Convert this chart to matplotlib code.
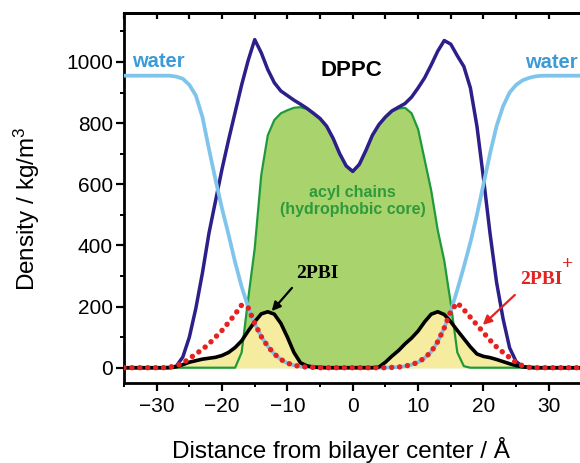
import numpy as np
import matplotlib
matplotlib.use("Agg")
import matplotlib.pyplot as plt
from matplotlib.ticker import MultipleLocator

plt.rcParams["font.family"] = ["Liberation Sans", "DejaVu Sans"]
plt.rcParams["mathtext.fontset"] = "custom"
plt.rcParams["mathtext.rm"] = "Liberation Sans"
plt.rcParams["mathtext.it"] = "Liberation Sans"

# Distance from bilayer centre (Å), 1 Å sampling
distance = np.arange(-35, 36, 1)

water = ([955] * 8 +
         [952, 945, 925, 890, 820, 715, 615, 520, 435, 345, 265, 198, 145, 102, 70, 45, 27, 15, 8, 4, 2, 1] +
         [0] * 11 +
         [1, 2, 5, 10, 18, 32, 52, 85, 130, 185, 255, 330, 410, 500, 600, 700, 790, 855, 900, 925, 940, 948, 953] +
         [955] * 7)

dppc = ([0] * 7 +
        [1, 5, 35, 100, 195, 310, 440, 545, 650, 745, 835, 925, 1005, 1073, 1030, 975, 932, 905, 890, 875,
         862, 848, 832, 815, 790, 750, 700, 660, 642, 665, 710, 760, 795, 820, 840, 852, 864, 885, 915, 948,
         990, 1035, 1070, 1058, 1020, 985, 915, 790, 620, 440, 280, 160, 65, 20, 4, 1] +
        [0] * 8)

acyl_chains = ([0] * 18 +
               [50, 225, 390, 630, 760, 810, 832, 842, 850, 852, 846, 830, 813, 788, 748, 698, 658, 640, 663,
                708, 758, 793, 818, 838, 848, 850, 832, 780, 680, 580, 450, 350, 210, 50, 5] +
               [0] * 18)

pbi = ([0] * 8 +
       [3, 10, 18, 23, 28, 31, 34, 40, 50, 66, 88, 120, 150, 176, 183, 175, 145, 100, 50, 16, 6, 2, 1] +
       [0] * 8 +
       [2, 18, 38, 56, 78, 97, 120, 150, 175, 183, 174, 150, 122, 95, 68, 45, 37, 33, 27, 20, 13, 7, 3, 1] +
       [0] * 8)

pbi_plus = ([0] * 7 +
            [2, 6, 15, 30, 45, 60, 78, 100, 122, 148, 175, 205, 196, 145, 102, 70, 45, 27, 15, 8, 4, 2, 1] +
            [0] * 11 +
            [1, 2, 5, 10, 18, 32, 52, 85, 130, 185, 212, 190, 165, 140, 115, 90, 68, 50, 33, 17, 6, 1] +
            [0] * 8)

x_ticks = [-30, -20, -10, 0, 10, 20, 30]
y_ticks = [0, 200, 400, 600, 800, 1000]

C_WATER = "#7fc4ea"
C_WATER_TXT = "#3b9bd6"
C_DPPC = "#2c1f8a"
C_ACYL = "#1f9a3a"
C_ACYL_FILL = "#a8d36d"
C_ACYL_TXT = "#2f9a3c"
C_PBI_FILL = "#f6eca0"
C_RED = "#e5221f"

fig = plt.figure(figsize=(5.8, 4.63), dpi=100)
ax = fig.add_axes([124 / 580, 80 / 463, 457.5 / 580, 370 / 463])

ax.fill_between(distance, acyl_chains, 0, color=C_ACYL_FILL, lw=0, zorder=1)
ax.fill_between(distance, pbi, 0, color=C_PBI_FILL, lw=0, zorder=2)
ax.plot(distance, acyl_chains, color=C_ACYL, lw=1.6, zorder=3)
ax.plot(distance, dppc, color=C_DPPC, lw=2.5, zorder=4)
ax.plot(distance, water, color=C_WATER, lw=2.7, zorder=5)
ax.plot(distance, pbi, color="black", lw=2.6, zorder=6, solid_capstyle="butt")
ax.plot(distance, pbi_plus, color=C_RED, lw=3.9, zorder=7,
        linestyle=(0, (0.01, 1.45)), dash_capstyle="round")

ax.set_xlim(-35, 35)
ax.set_ylim(-50, 1160)
ax.set_xticks(x_ticks)
ax.set_yticks(y_ticks)
ax.xaxis.set_minor_locator(MultipleLocator(5))
ax.yaxis.set_minor_locator(MultipleLocator(100))
ax.tick_params(which="major", direction="out", length=6, width=1.6, labelsize=15, pad=4)
ax.tick_params(axis="y", which="major", pad=2)
ax.tick_params(which="minor", direction="out", length=3, width=1.4)
for side in ("left", "bottom", "top"):
    ax.spines[side].set_linewidth(2)
ax.spines["right"].set_visible(False)

top = ax.secondary_xaxis("top")
top.set_xticks(np.arange(-35, 36, 5))
top.tick_params(direction="in", length=4, width=1.6, labeltop=False)
top.spines["top"].set_linewidth(2)

# Labels on the curves
ax.text(-33.7, 1002, "water", color=C_WATER_TXT, fontsize=14.5, fontweight="bold",
        ha="left", va="center", zorder=8)
ax.text(26.3, 998, "water", color=C_WATER_TXT, fontsize=14.5, fontweight="bold",
        ha="left", va="center", zorder=8, clip_on=False)
ax.text(-0.15, 972, "DPPC", color="black", fontsize=16, fontweight="bold",
        ha="center", va="center", zorder=8)
ax.text(0, 574, "acyl chains", color=C_ACYL_TXT, fontsize=11.5, fontweight="bold",
        ha="center", va="center", zorder=8)
ax.text(0, 519, "(hydrophobic core)", color=C_ACYL_TXT, fontsize=11.5, fontweight="bold",
        ha="center", va="center", zorder=8)

serif = ["Liberation Serif", "DejaVu Serif"]
ax.text(-5.4, 307, "2PBI", color="black", fontsize=14, fontweight="bold", family=serif,
        ha="center", va="center", zorder=8)
ax.annotate("", xy=(-12.4, 185), xytext=(-9.3, 261),
            arrowprops=dict(arrowstyle="-|>", color="black", lw=1.6,
                            mutation_scale=13, shrinkA=0, shrinkB=0), zorder=8)

ax.text(28.8, 287, "2PBI", color=C_RED, fontsize=14, fontweight="bold", family=serif,
        ha="center", va="center", zorder=8)
ax.text(32.8, 338, "+", color=C_RED, fontsize=14, fontweight="bold", family=serif,
        ha="center", va="center", zorder=8)
ax.annotate("", xy=(19.9, 140), xytext=(24.8, 238),
            arrowprops=dict(arrowstyle="-|>", color=C_RED, lw=1.6,
                            mutation_scale=13, shrinkA=0, shrinkB=0), zorder=8)

fig.text(341 / 580, 1 - 450 / 463, "Distance from bilayer center / Å", fontsize=17.5,
         ha="center", va="center")
fig.text(27 / 580, 1 - 209 / 463, "Density / kg/m$^3$", fontsize=17.5, rotation=90,
         ha="center", va="center")

fig.savefig("out.png", dpi=100)
